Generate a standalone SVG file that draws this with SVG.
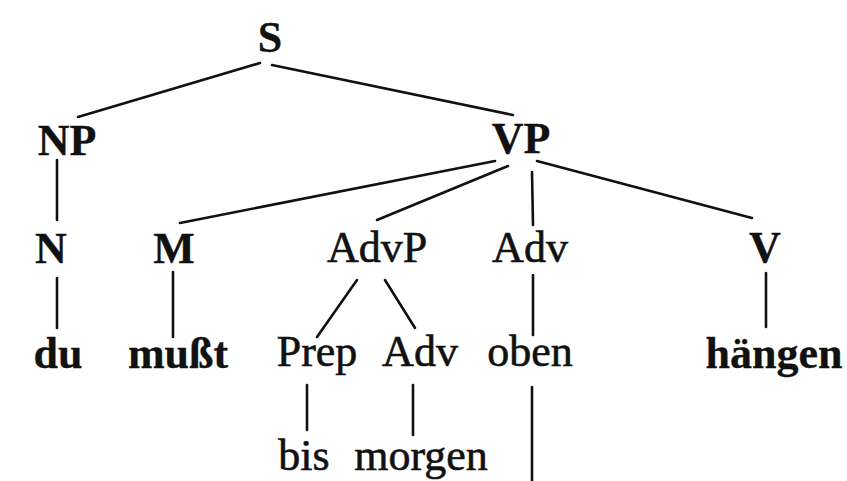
<svg xmlns="http://www.w3.org/2000/svg" width="847" height="481" viewBox="0 0 847 481">
<style>
text{font-family:"Liberation Serif","Times New Roman",serif;font-size:44px;fill:#111;stroke:#111;stroke-width:0.6;text-anchor:middle}
.b{font-weight:bold;stroke-width:0.3}
.e line{stroke:#111;stroke-width:2.6;stroke-linecap:round}
</style>
<rect width="847" height="481" fill="#fff"/>
<g class="e" id="connectors">
<line x1="260" y1="63" x2="78" y2="117"/>
<line x1="272" y1="65" x2="513" y2="115"/>
<line x1="57" y1="160" x2="57" y2="220"/>
<line x1="495" y1="161" x2="180" y2="223"/>
<line x1="508" y1="166" x2="377" y2="220"/>
<line x1="532" y1="172" x2="533" y2="225"/>
<line x1="537" y1="161" x2="752" y2="218"/>
<line x1="57" y1="278" x2="57" y2="328"/>
<line x1="173" y1="272" x2="173" y2="337"/>
<line x1="357" y1="280" x2="317" y2="337"/>
<line x1="385" y1="280" x2="415" y2="328"/>
<line x1="533" y1="275" x2="533" y2="335"/>
<line x1="766" y1="273" x2="766" y2="327"/>
<line x1="307" y1="385" x2="307" y2="430"/>
<line x1="413" y1="385" x2="413" y2="435"/>
<line x1="532" y1="387" x2="532" y2="481"/>
</g>
<g id="S"><text class="b" x="270" y="52">S</text></g>
<g id="NP"><text class="b" x="67" y="155">NP</text></g>
<g id="VP"><text class="b" x="521" y="153">VP</text></g>
<g id="N"><text class="b" x="51" y="263">N</text></g>
<g id="M"><text class="b" x="174" y="263">M</text></g>
<g id="AdvP"><text x="377" y="262">AdvP</text></g>
<g id="Adv1"><text x="530" y="262">Adv</text></g>
<g id="V"><text class="b" x="765" y="262">V</text></g>
<g id="du"><text class="b" x="58" y="368">du</text></g>
<g id="musst"><text class="b" x="178" y="368">mußt</text></g>
<g id="Prep"><text x="317" y="366">Prep</text></g>
<g id="Adv2"><text x="420" y="366">Adv</text></g>
<g id="oben"><text x="530" y="366">oben</text></g>
<g id="haengen"><text class="b" x="774" y="368">hängen</text></g>
<g id="bis"><text x="304" y="470">bis</text></g>
<g id="morgen"><text x="421" y="470">morgen</text></g>
</svg>
